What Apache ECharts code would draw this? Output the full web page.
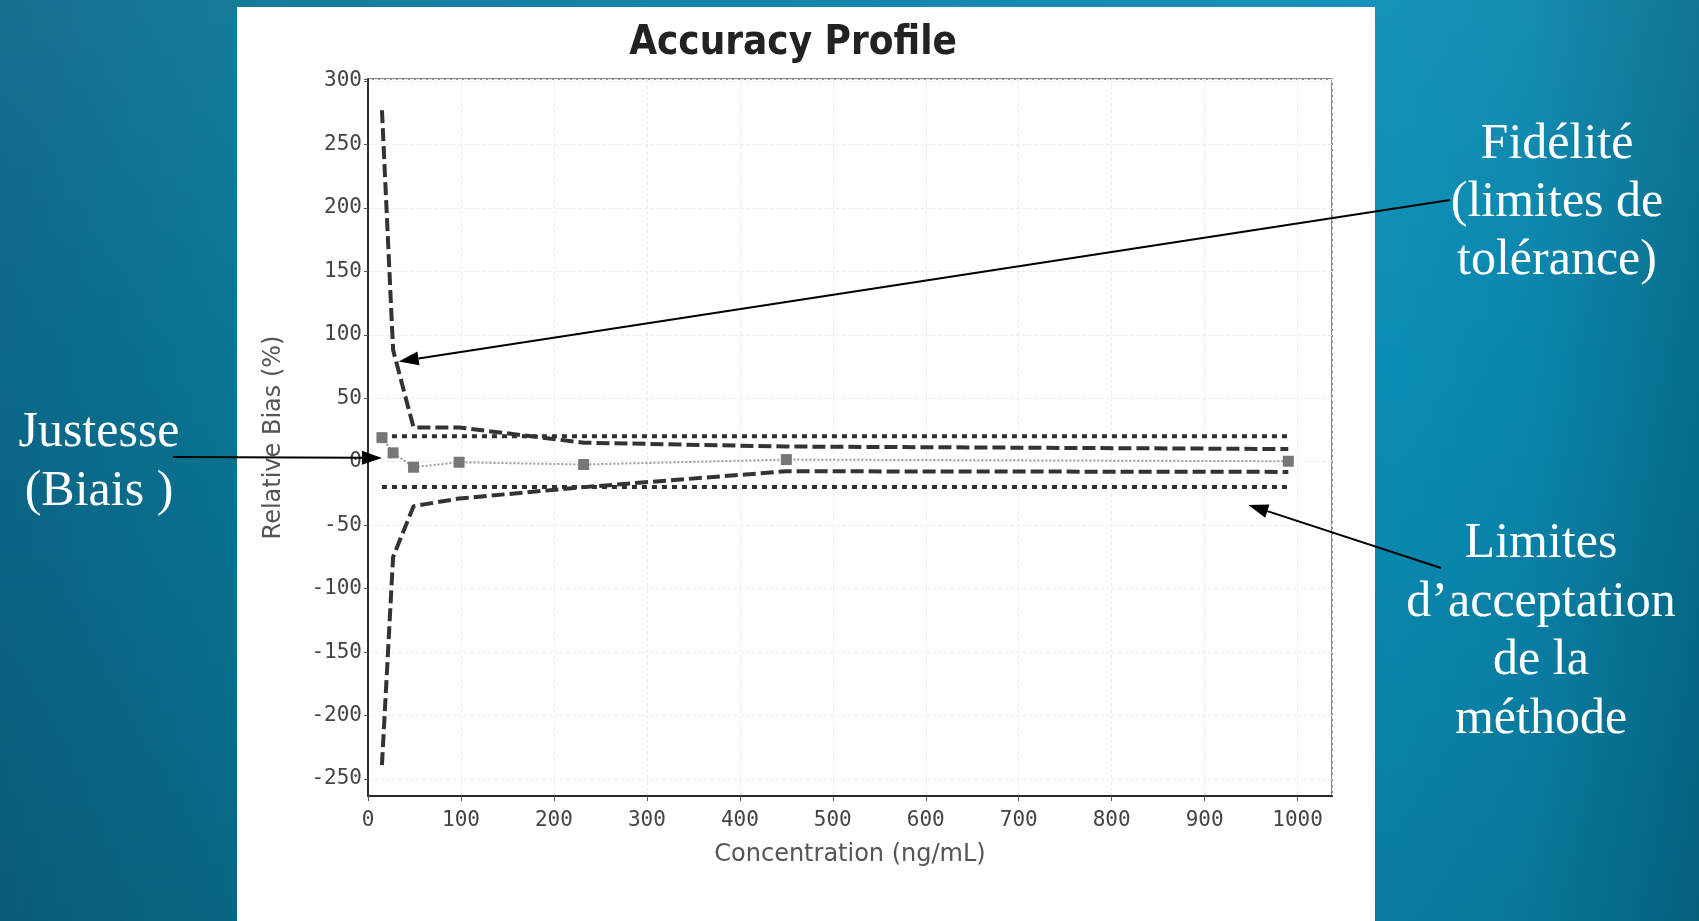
<!DOCTYPE html>
<html><head><meta charset="utf-8">
<script src="https://cdn.jsdelivr.net/npm/echarts@6/dist/echarts.min.js"></script>
<style>
html,body{margin:0;padding:0;width:1699px;height:921px;overflow:hidden;}
body{background:linear-gradient(to right,#0b6788 0%,#0a7494 13.5%,#0a84ab 60%,#0a8db5 82%,#0986ad 90%,#066d8d 100%);}
#shade{position:absolute;left:0;top:0;width:1699px;height:921px;background:linear-gradient(to bottom,rgba(255,255,255,0.05) 0%,rgba(0,0,0,0) 40%,rgba(0,0,0,0.12) 100%);}
#panel{position:absolute;left:237px;top:7px;width:1138px;height:914px;background:#fff;}
#chart{position:absolute;left:0;top:0;width:1699px;height:921px;}
</style></head><body>
<div id="shade"></div><div id="panel"></div><div id="chart"></div>
<script>
// ---- data ----
const concentrations   = [15, 27, 49, 98, 232, 450, 990];
const relativeBias     = [19, 7, -4.3, -0.4, -2.2, 1.7, 0.4];
const upperTolerance   = [277, 88, 27, 27, 15, 12, 10];
const lowerTolerance   = [-239, -75, -35, -29, -20, -7.5, -8];
const upperAcceptance  = [20, 20, 20, 20, 20, 20, 20];
const lowerAcceptance  = [-20, -20, -20, -20, -20, -20, -20];
const xTickLabels = [0, 100, 200, 300, 400, 500, 600, 700, 800, 900, 1000];
const yTickLabels = [-250, -200, -150, -100, -50, 0, 50, 100, 150, 200, 250, 300];
// annotation targets (data units)
const fideliteTarget  = [33, 79];
const justesseTarget  = [15, 3];
const limitesTarget   = [947, -34];

const pairs = (xs, ys) => xs.map((x, i) => [x, ys[i]]);
const tickFont = "'DejaVu Sans Mono',monospace";

const chart = echarts.init(document.getElementById('chart'), null, {renderer: 'canvas'});
const option = {
  animation: false,
  backgroundColor: 'transparent',
  grid: {left: 368, right: 367, top: 79, bottom: 125, containLabel: false,
         show: true, borderColor: '#666', borderWidth: 1.5, backgroundColor: 'transparent'},
  xAxis: {
    type: 'value', min: 0, max: 1037, interval: 100,
    name: 'Concentration (ng/mL)', nameLocation: 'middle', nameGap: 47,
    nameTextStyle: {color: '#555', fontSize: 24, fontFamily: "'DejaVu Sans',sans-serif"},
    axisLine: {show: true, onZero: false, lineStyle: {color: '#2b2b2b', width: 2}},
    axisTick: {show: true, length: 5, lineStyle: {color: '#555', width: 1}},
    axisLabel: {showMaxLabel: false, color: '#444', fontSize: 21, fontFamily: tickFont, margin: 14,
                formatter: v => xTickLabels.includes(v) ? String(v) : ''},
    splitLine: {show: true, lineStyle: {color: '#ececec', type: 'dashed', width: 1}}
  },
  yAxis: {
    type: 'value', min: -263.4, max: 301.6, splitNumber: 11,
    name: 'Relative Bias (%)', nameLocation: 'middle', nameGap: 82,
    nameTextStyle: {color: '#555', fontSize: 24, fontFamily: "'DejaVu Sans',sans-serif"},
    axisLine: {show: true, onZero: false, lineStyle: {color: '#2b2b2b', width: 2}},
    axisTick: {show: true, length: 4, lineStyle: {color: '#555', width: 1}},
    axisLabel: {showMinLabel: false, showMaxLabel: true, color: '#444', fontSize: 21, fontFamily: tickFont, margin: 6,
                formatter: v => yTickLabels.includes(v) ? String(v) : ''},
    splitLine: {show: true, lineStyle: {color: '#ececec', type: 'dashed', width: 1}}
  },
  series: [
    {name: 'Upper acceptance', type: 'line', data: pairs(concentrations, upperAcceptance), showSymbol: false, silent: true,
     lineStyle: {color: '#2e2e2e', width: 4, type: [5, 5]}},
    {name: 'Lower acceptance', type: 'line', data: pairs(concentrations, lowerAcceptance), showSymbol: false, silent: true,
     lineStyle: {color: '#2e2e2e', width: 4, type: [5, 5]}},
    {name: 'Upper tolerance', type: 'line', data: pairs(concentrations, upperTolerance), showSymbol: false, silent: true,
     lineStyle: {color: '#333', width: 4, type: [13, 5]}},
    {name: 'Lower tolerance', type: 'line', data: pairs(concentrations, lowerTolerance), showSymbol: false, silent: true,
     lineStyle: {color: '#333', width: 4, type: [13, 5]}},
    {name: 'Relative bias', type: 'line', data: pairs(concentrations, relativeBias), silent: true,
     symbol: 'rect', symbolSize: 11, showSymbol: true,
     itemStyle: {color: '#777'},
     lineStyle: {color: '#9a9a9a', width: 2, type: [2, 2]}, z: 5}
  ]
};
chart.setOption(option);

function arrow(x1, y1, x2, y2) {
  const ang = Math.atan2(y2 - y1, x2 - x1);
  const L = 20, W = 7;
  const bx = x2 - L * Math.cos(ang), by = y2 - L * Math.sin(ang);
  const px = -Math.sin(ang) * W, py = Math.cos(ang) * W;
  return [
    {type: 'line', shape: {x1, y1, x2: bx, y2: by}, style: {stroke: '#000', lineWidth: 2}, z: 100},
    {type: 'polygon', shape: {points: [[x2, y2], [bx + px, by + py], [bx - px, by - py]]}, style: {fill: '#000'}, z: 100}
  ];
}
const toPx = p => chart.convertToPixel({gridIndex: 0}, p);
const fT = toPx(fideliteTarget), jT = toPx(justesseTarget), lT = toPx(limitesTarget);
const serif = "'Liberation Serif','DejaVu Serif',serif";
chart.setOption({
  graphic: [
    {type: 'text', x: 793, y: 44, z: 100, style: {text: 'Accuracy Profile', fill: '#222',
      font: "bold 40px 'DejaVu Sans Condensed','DejaVu Sans',sans-serif", align: 'center', verticalAlign: 'middle'}},
    {type: 'text', x: 1557, y: 203, z: 100, style: {text: 'Fidélité\n(limites de\ntolérance)', fill: '#fff',
      font: '50px ' + serif, align: 'center', verticalAlign: 'middle', lineHeight: 58}},
    {type: 'text', x: 99, y: 462, z: 100, style: {text: 'Justesse\n(Biais )', fill: '#fff',
      font: '50px ' + serif, align: 'center', verticalAlign: 'middle', lineHeight: 59}},
    {type: 'text', x: 1541, y: 632, z: 100, style: {text: 'Limites\nd\u2019acceptation\nde la\nméthode', fill: '#fff',
      font: '50px ' + serif, align: 'center', verticalAlign: 'middle', lineHeight: 58.5}},
    ...arrow(1450, 200, fT[0], fT[1]),
    ...arrow(173, 457, jT[0], jT[1]),
    ...arrow(1441, 568, lT[0], lT[1])
  ]
});
</script>
</body></html>
